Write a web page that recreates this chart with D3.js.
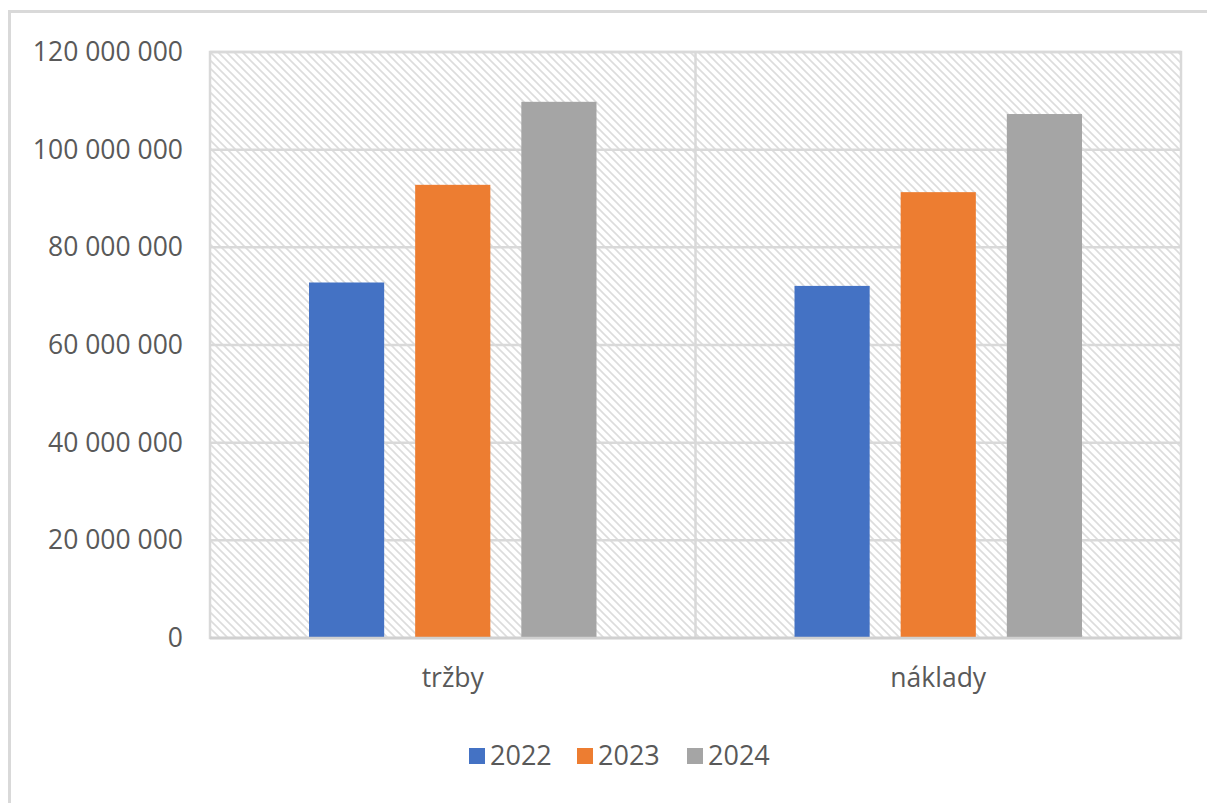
<!DOCTYPE html>
<html>
<head>
<meta charset="utf-8">
<script src="https://cdn.jsdelivr.net/npm/d3@7"></script>
<style>
  body { margin: 0; background: #fff; }
  text { font-family: "Open Sans", "Noto Sans", sans-serif; fill: #595959; }
</style>
</head>
<body>
<svg id="chart"></svg>
<script>
// data
const categories = ["tržby", "náklady"];
const years = ["2022", "2023", "2024"];
const values2022 = [72800000, 72100000];
const values2023 = [92800000, 91300000];
const values2024 = [109800000, 107300000];
const yTicks = [0, 20000000, 40000000, 60000000, 80000000, 100000000, 120000000];

const seriesValues = [values2022, values2023, values2024];
const colors = ["#4472c4", "#ed7d31", "#a5a5a5"];

const W = 1207, H = 803;
const margin = {top: 52, right: 26, bottom: 165, left: 210};
const width = W - margin.left - margin.right;
const height = H - margin.top - margin.bottom;

const svg = d3.select("#chart").attr("width", W).attr("height", H);

// outer chart border (right and bottom fall outside the photo)
svg.append("rect")
  .attr("x", 9.5).attr("y", 11.5)
  .attr("width", W + 20).attr("height", H + 20)
  .attr("fill", "none")
  .attr("stroke", "#d9d9d9")
  .attr("stroke-width", 3);

// hatch pattern of the plot area
const defs = svg.append("defs");
const pat = defs.append("pattern")
  .attr("id", "hatch")
  .attr("patternUnits", "userSpaceOnUse")
  .attr("width", 8).attr("height", 8);
pat.append("rect").attr("width", 8).attr("height", 8).attr("fill", "#fff");
pat.append("path")
  .attr("d", "M-2,-2L10,10M-2,6L2,10M6,-2L10,2")
  .attr("stroke", "#dcdcdc")
  .attr("stroke-width", 1.6);

const g = svg.append("g")
  .attr("transform", `translate(${margin.left},${margin.top})`);

// scales
const x0 = d3.scaleBand().domain(categories).range([0, width]).padding(0);
const groupPad = 99;
const x1 = d3.scaleBand().domain(years)
  .range([groupPad, x0.bandwidth() - groupPad])
  .paddingInner(0.292).paddingOuter(0);
const y = d3.scaleLinear().domain([0, 120000000]).range([height, 0]);

const locale = d3.formatLocale({decimal: ",", thousands: " ", grouping: [3], currency: ["", ""]});
const fmt = locale.format(",");

// plot background
g.append("rect")
  .attr("width", width).attr("height", height)
  .attr("fill", "url(#hatch)");

// gridlines
g.append("g")
  .selectAll("line")
  .data(yTicks)
  .join("line")
  .attr("x1", 0).attr("x2", width)
  .attr("y1", d => y(d)).attr("y2", d => y(d))
  .attr("stroke", "#d9d9d9")
  .attr("stroke-width", 2.5);

// vertical divider between the categories
g.append("g")
  .selectAll("line")
  .data(categories.slice(1))
  .join("line")
  .attr("x1", d => x0(d)).attr("x2", d => x0(d))
  .attr("y1", 0).attr("y2", height)
  .attr("stroke", "#d9d9d9")
  .attr("stroke-width", 2.5);

// plot border
g.append("rect")
  .attr("width", width).attr("height", height)
  .attr("fill", "none")
  .attr("stroke", "#d9d9d9")
  .attr("stroke-width", 2.5);

// bars
const groups = g.selectAll(".cat")
  .data(categories)
  .join("g")
  .attr("class", "cat")
  .attr("transform", d => `translate(${x0(d)},0)`);

groups.selectAll("rect")
  .data((c, ci) => years.map((yr, i) => ({year: yr, value: seriesValues[i][ci], color: colors[i]})))
  .join("rect")
  .attr("x", d => x1(d.year))
  .attr("width", x1.bandwidth())
  .attr("y", d => y(d.value))
  .attr("height", d => height - y(d.value))
  .attr("fill", d => d.color);

// base line
g.append("line")
  .attr("x1", 0).attr("x2", width)
  .attr("y1", height).attr("y2", height)
  .attr("stroke", "#d0d0d0")
  .attr("stroke-width", 2.5);

// y axis labels
const yAxis = d3.axisLeft(y).tickValues(yTicks).tickFormat(fmt).tickSize(0).tickPadding(27);
const ya = g.append("g").call(yAxis);
ya.select(".domain").remove();
ya.selectAll("text")
  .attr("font-size", 26.5)
  .attr("fill", "#595959")
  .style("font-family", "'Open Sans', sans-serif");

// x axis labels
const xAxis = d3.axisBottom(x0).tickSize(0).tickPadding(30);
const xa = g.append("g").attr("transform", `translate(0,${height})`).call(xAxis);
xa.select(".domain").remove();
xa.selectAll("text")
  .attr("font-size", 26.5)
  .attr("fill", "#595959")
  .style("font-family", "'Open Sans', sans-serif");

// legend
const legendX = [469, 577, 687];
const legend = svg.append("g").attr("transform", "translate(0,756)");
const items = legend.selectAll("g")
  .data(years)
  .join("g")
  .attr("transform", (d, i) => `translate(${legendX[i]},0)`);
items.append("rect")
  .attr("x", 0).attr("y", -8)
  .attr("width", 16).attr("height", 16)
  .attr("fill", (d, i) => colors[i]);
items.append("text")
  .attr("x", 21).attr("y", 0)
  .attr("dy", "0.35em")
  .attr("font-size", 27)
  .text(d => d);
</script>
</body>
</html>
